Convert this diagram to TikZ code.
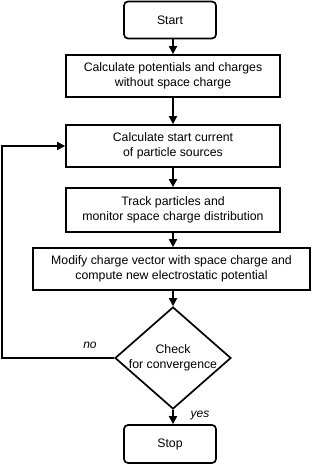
\documentclass[tikz,border=0pt]{standalone}
\usepackage{fontspec}
\setmainfont{Liberation Sans}
\usetikzlibrary{arrows.meta,shapes.geometric}

\begin{document}
\begin{tikzpicture}[
  x=1pt, y=1pt,
  step box/.style={draw, line width=1.7pt, align=center, inner sep=2pt,
    font=\fontsize{12.3}{15}\selectfont},
  term/.style={step box, rounded corners=4pt, minimum width=92pt, minimum height=37pt},
  proc/.style={step box, minimum width=214pt, minimum height=42pt},
  test/.style={step box, diamond, inner sep=-2.5pt, aspect=1.15, minimum width=116pt, minimum height=102pt},
  flow/.style={line width=1.7pt, -{Triangle[length=8pt,width=8pt]}},
  lbl/.style={font=\fontsize{12}{14}\selectfont\itshape}
]
\useasboundingbox (0,0) rectangle (320,-465);

% Main column
\node[term] (start) at (170,-20) {Start};
\node[proc] (pot) at (173,-76) {Calculate potentials and charges\\without space charge};
\node[proc] (src) at (173,-146) {Calculate start current\\of particle sources};
\node[proc, minimum height=44pt] (track) at (173,-210) {Track particles and\\monitor space charge distribution};
\node[proc, minimum width=277pt] (modify) at (171.5,-269) {Modify charge vector with space charge and\\compute new electrostatic potential};
\node[test] (check) at (173,-358) {Check\\for convergence};
\node[term, minimum height=38pt] (stop) at (170,-444) {Stop};

% Connectors
\draw[flow] (start.south -| pot.north) -- (pot.north);
\draw[flow] (pot) -- (src);
\draw[flow] (src) -- (track);
\draw[flow] (track) -- (modify.north -| track.south);
\draw[flow] (modify.south -| check.north) -- (check.north);
\draw[flow] (check.south) -- (stop.north -| check.south);

% Loop back
\coordinate (back) at (2,-358);
\draw[flow] (check.west) -- (back) |- (src.west);
\node[lbl] (no) at (90,-345) {no};
\node[lbl] (yes) at (200,-416) {yes};
\end{tikzpicture}
\end{document}
